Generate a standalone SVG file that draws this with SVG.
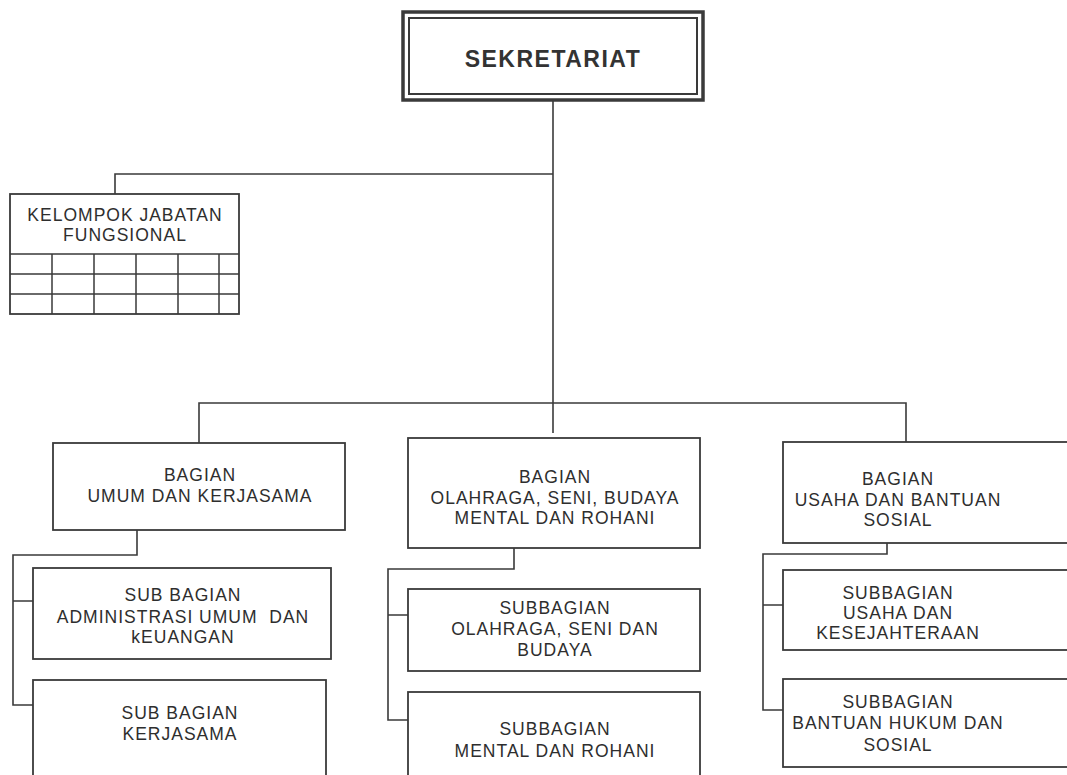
<svg xmlns="http://www.w3.org/2000/svg" width="1067" height="775" viewBox="0 0 1067 775">
<style>
.bg{fill:#ffffff}
.box{fill:#ffffff;stroke:#3a3a3a;stroke-width:1.8}
.grid{fill:none;stroke:#3a3a3a;stroke-width:1.5}
.conn{fill:none;stroke:#3a3a3a;stroke-width:1.6}
.t{font-family:"Liberation Sans",Arial,sans-serif;font-size:17.5px;letter-spacing:1px;fill:#2e2e2e;text-anchor:middle}
.title{font-family:"Liberation Sans",Arial,sans-serif;font-size:23px;letter-spacing:1.5px;font-weight:bold;fill:#333;text-anchor:middle}
</style>
<rect class="bg" x="0" y="0" width="1067" height="775"/>
<g id="connectors">
<path class="conn" d="M553 100 V433"/>
<path class="conn" d="M553 174 H115 V194"/>
<path class="conn" d="M199 443 V403 H906 V442"/>
<path class="conn" d="M137 530 V555 H13 V705 H33 M13 601 H33"/>
<path class="conn" d="M514 548 V569 H388 V720 H408 M388 615 H408"/>
<path class="conn" d="M887 543 V554 H763 V710 H783 M763 605 H783"/>
</g>
<g id="sekretariat">
<rect x="403" y="12" width="300" height="88" fill="#fff" stroke="#3a3a3a" stroke-width="3.5"/>
<rect x="409" y="18" width="288" height="76" fill="none" stroke="#3a3a3a" stroke-width="2"/>
<text class="title" x="553" y="67">SEKRETARIAT</text>
</g>
<g id="kelompok">
<rect class="box" x="10" y="194" width="229" height="120"/>
<path class="grid" d="M10 254 H239 M10 274 H239 M10 294 H239 M52 254 V314 M94 254 V314 M136 254 V314 M178 254 V314 M219 254 V314"/>
<text class="t" x="125" y="221">KELOMPOK JABATAN</text>
<text class="t" x="125" y="241">FUNGSIONAL</text>
</g>
<g id="bagian-umum">
<rect class="box" x="53" y="443" width="292" height="87"/>
<text class="t" x="200" y="481">BAGIAN</text>
<text class="t" x="200" y="502">UMUM DAN KERJASAMA</text>
</g>
<g id="sub-admin">
<rect class="box" x="33" y="568" width="298" height="91"/>
<text class="t" x="183" y="601">SUB BAGIAN</text>
<text class="t" x="183" y="623">ADMINISTRASI UMUM&#160; DAN</text>
<text class="t" x="183" y="643">kEUANGAN</text>
</g>
<g id="sub-kerjasama">
<rect class="box" x="33" y="680" width="293" height="110"/>
<text class="t" x="180" y="719">SUB BAGIAN</text>
<text class="t" x="180" y="740">KERJASAMA</text>
</g>
<g id="bagian-olahraga">
<rect class="box" x="408" y="438" width="292" height="110"/>
<text class="t" x="555" y="483">BAGIAN</text>
<text class="t" x="555" y="504">OLAHRAGA, SENI, BUDAYA</text>
<text class="t" x="555" y="524">MENTAL DAN ROHANI</text>
</g>
<g id="sub-olahraga">
<rect class="box" x="408" y="589" width="292" height="82"/>
<text class="t" x="555" y="614">SUBBAGIAN</text>
<text class="t" x="555" y="635">OLAHRAGA, SENI DAN</text>
<text class="t" x="555" y="656">BUDAYA</text>
</g>
<g id="sub-mental">
<rect class="box" x="408" y="692" width="292" height="100"/>
<text class="t" x="555" y="735">SUBBAGIAN</text>
<text class="t" x="555" y="757">MENTAL DAN ROHANI</text>
</g>
<g id="bagian-usaha">
<rect class="box" x="783" y="442" width="300" height="101"/>
<text class="t" x="898" y="485">BAGIAN</text>
<text class="t" x="898" y="506">USAHA DAN BANTUAN</text>
<text class="t" x="898" y="526">SOSIAL</text>
</g>
<g id="sub-usaha">
<rect class="box" x="783" y="570" width="300" height="80"/>
<text class="t" x="898" y="599">SUBBAGIAN</text>
<text class="t" x="898" y="619">USAHA DAN</text>
<text class="t" x="898" y="639">KESEJAHTERAAN</text>
</g>
<g id="sub-bantuan">
<rect class="box" x="783" y="679" width="300" height="88"/>
<text class="t" x="898" y="708">SUBBAGIAN</text>
<text class="t" x="898" y="729">BANTUAN HUKUM DAN</text>
<text class="t" x="898" y="751">SOSIAL</text>
</g>
</svg>
